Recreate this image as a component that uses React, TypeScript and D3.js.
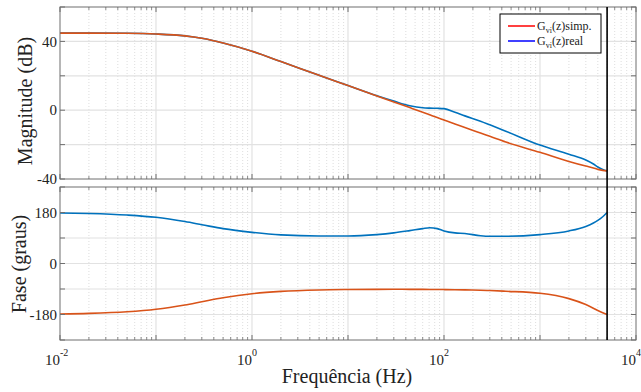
import React, { useEffect } from "react";
import * as d3 from "d3";

// frequencies in Hz (shared by every series)
const freqs = [
  0.01, 0.02, 0.05, 0.1, 0.2, 0.3, 0.5, 1, 2, 5, 10, 20, 30, 44, 60, 71, 85, 100,
  130, 165, 240, 300, 440, 1000, 2000, 3000, 3600, 4000, 4500, 5000,
];

// magnitude (dB)
const magSimp = [
  44.8, 44.8, 44.7, 44.3, 43.2, 41.8, 39.1, 34.3, 28.3, 20.3, 14.3, 8.3, 4.8, 1.5,
  -1.2, -2.7, -4.3, -5.7, -8.0, -10.0, -13.3, -15.2, -18.5, -24.5, -29.8, -32.5,
  -33.6, -34.4, -35.0, -35.3,
];
const magReal = [
  44.8, 44.8, 44.7, 44.3, 43.2, 41.8, 39.1, 34.3, 28.3, 20.3, 14.3, 8.4, 5.3, 2.6,
  1.4, 1.2, 1.1, 0.9, -1.2, -3.3, -6.4, -8.5, -12.2, -20.3, -25.6, -29.0, -31.3,
  -33.0, -34.4, -35.3,
];

// phase (graus)
const phaseSimp = [
  -178.1, -176.2, -170.5, -161.6, -146.3, -135, -121, -106.7, -98.5, -93.4, -91.9,
  -91.2, -91.1, -91.2, -91.4, -91.5, -91.7, -92.0, -92.5, -93.1, -94.4, -95.5, -98,
  -105, -124, -145, -158, -166, -174, -180,
];
const phaseReal = [
  178.5, 176.5, 171, 163, 148, 137, 123, 110, 101, 97, 97, 102, 108, 116, 123, 126,
  123, 115, 108, 106, 98, 96, 96, 102, 115, 131, 143, 152, 165, 180,
];

const nyquist = 5000;

const magTicks = [-40, -20, 0, 20, 40, 60];
const magLabels = [-40, 0, 40];
const phaseTicks = [-270, -180, -90, 0, 90, 180, 270];
const phaseLabels = [-180, 0, 180];
const decades = [-2, -1, 0, 1, 2, 3, 4];
const labelDecades = [-2, 0, 2, 4];

const ORANGE = "#D95319";
const BLUE = "#0072BD";
const FRAME = "#6f6f6f";
const FONT = "Liberation Serif, DejaVu Serif, serif";
const txt = { fontFamily: FONT };

const left = 60;
const right = 636;

const x = d3.scaleLog().domain([0.01, 10000]).range([left, right]);

const minorFreqs: number[] = [];
for (let d = -2; d < 4; d++) {
  for (let m = 2; m <= 9; m++) minorFreqs.push(m * Math.pow(10, d));
}

type PanelProps = {
  top: number;
  bottom: number;
  domain: [number, number];
  ticks: number[];
  labels: number[];
  series: { values: number[]; color: string }[];
};

const Panel = ({ top, bottom, domain, ticks, labels, series }: PanelProps) => {
  const y = d3.scaleLinear().domain(domain).range([bottom, top]);
  const line = d3
    .line<number>()
    .x((_, i) => x(freqs[i]))
    .y((v) => y(v))
    .curve(d3.curveMonotoneX);

  return (
    <g>
      {/* minor grid */}
      {minorFreqs.map((f) => (
        <line key={"mg" + f} x1={x(f)} x2={x(f)} y1={top} y2={bottom}
          stroke="#d4d4d4" strokeWidth={0.8} strokeDasharray="1,2" />
      ))}
      {/* major grid */}
      {decades.slice(1, -1).map((d) => (
        <line key={"g" + d} x1={x(Math.pow(10, d))} x2={x(Math.pow(10, d))} y1={top} y2={bottom}
          stroke="#e2e2e2" strokeWidth={1.2} />
      ))}
      {ticks.slice(1, -1).map((t) => (
        <line key={"gy" + t} x1={left} x2={right} y1={y(t)} y2={y(t)}
          stroke="#e2e2e2" strokeWidth={1.2} />
      ))}

      {/* curves */}
      {series.map((s, i) => (
        <path key={i} d={line(s.values) || ""} fill="none" stroke={s.color} strokeWidth={1.6} />
      ))}

      {/* frame */}
      <rect x={left} y={top} width={right - left} height={bottom - top} fill="none" stroke={FRAME} strokeWidth={1} />

      {/* x ticks top and bottom */}
      {decades.map((d) => {
        const xp = x(Math.pow(10, d));
        return (
          <g key={"xt" + d} stroke={FRAME} strokeWidth={1}>
            <line x1={xp} x2={xp} y1={bottom} y2={bottom - 5} />
            <line x1={xp} x2={xp} y1={top} y2={top + 5} />
          </g>
        );
      })}
      {minorFreqs.map((f) => (
        <g key={"mt" + f} stroke={FRAME} strokeWidth={0.8}>
          <line x1={x(f)} x2={x(f)} y1={bottom} y2={bottom - 3} />
          <line x1={x(f)} x2={x(f)} y1={top} y2={top + 3} />
        </g>
      ))}
      {/* y ticks left and right */}
      {ticks.map((t) => (
        <g key={"yt" + t} stroke={FRAME} strokeWidth={1}>
          <line x1={left} x2={left + 5} y1={y(t)} y2={y(t)} />
          <line x1={right} x2={right - 5} y1={y(t)} y2={y(t)} />
        </g>
      ))}
      {labels.map((t) => (
        <text key={"yl" + t} x={left - 3} y={y(t)} dy="0.35em" textAnchor="end"
          style={txt} fontSize={15} fill="#222">
          {t}
        </text>
      ))}

      {/* nyquist marker */}
      <line x1={x(nyquist)} x2={x(nyquist)} y1={top} y2={bottom} stroke="#000" strokeWidth={1.6} />
    </g>
  );
};

export default function App() {
  useEffect(() => {
    document.body.style.margin = "0";
  }, []);

  const W = 641;
  const H = 392;

  return (
    <svg width={W} height={H} style={{ display: "block", background: "#fff" }}>
      <rect width={W} height={H} fill="#fff" />

      <Panel top={7} bottom={179} domain={[-40, 60]} ticks={magTicks} labels={magLabels}
        series={[{ values: magReal, color: BLUE }, { values: magSimp, color: ORANGE }]} />
      <Panel top={187} bottom={340} domain={[-270, 270]} ticks={phaseTicks} labels={phaseLabels}
        series={[{ values: phaseReal, color: BLUE }, { values: phaseSimp, color: ORANGE }]} />

      {/* continuous marker through the gap */}
      <line x1={x(nyquist)} x2={x(nyquist)} y1={179} y2={187} stroke="#000" strokeWidth={1.6} />

      {/* x tick labels */}
      {labelDecades.map((d) => {
        const xp = x(Math.pow(10, d));
        return (
          <g key={"xl" + d} style={txt} fill="#222">
            <text x={xp} y={365} textAnchor="end" fontSize={15} style={txt}>10</text>
            <text x={xp} y={356} textAnchor="start" fontSize={10} style={txt}>{d}</text>
          </g>
        );
      })}

      {/* axis titles */}
      <text x={347} y={383} textAnchor="middle" style={txt} fontSize={20} fill="#222">
        Frequência (Hz)
      </text>
      <text transform="translate(32,101) rotate(-90)" textAnchor="middle" style={txt} fontSize={20} fill="#222">
        Magnitude (dB)
      </text>
      <text transform="translate(26,264) rotate(-90)" textAnchor="middle" style={txt} fontSize={20} fill="#222">
        Fase (graus)
      </text>

      {/* legend */}
      <g style={txt} fill="#222">
        <rect x={500} y={14} width={101} height={39} fill="#fff" stroke="#000" strokeWidth={1} />
        <line x1={508} x2={535} y1={26} y2={26} stroke="#ff0000" strokeWidth={1.5} />
        <line x1={508} x2={535} y1={41} y2={41} stroke="#0000ff" strokeWidth={1.5} />
        <text x={537} y={30} fontSize={12} style={txt}>
          G<tspan fontSize={8} dy={3}>vi</tspan><tspan dy={-3}>(z)simp.</tspan>
        </text>
        <text x={537} y={45} fontSize={12} style={txt}>
          G<tspan fontSize={8} dy={3}>vi</tspan><tspan dy={-3}>(z)real</tspan>
        </text>
      </g>
    </svg>
  );
}
